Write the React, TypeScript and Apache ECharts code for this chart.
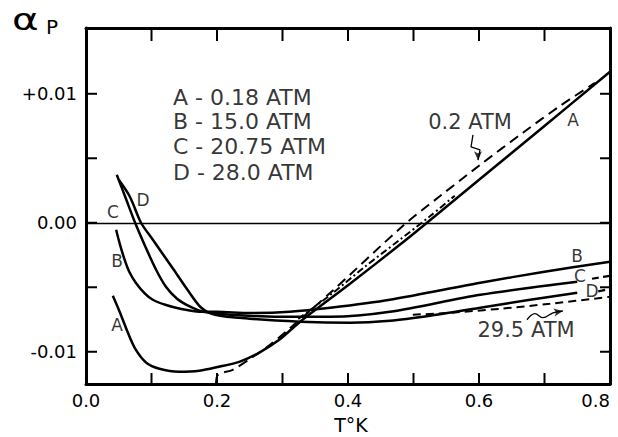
import React, { useEffect, useRef } from "react";
import * as echarts from "echarts";

// ---- data (T in K, alpha_P) ----
const T_A = [0.041, 0.052, 0.064, 0.076, 0.092, 0.112, 0.142, 0.173, 0.203, 0.234, 0.264, 0.295, 0.327, 0.403, 0.479, 0.515, 0.602, 0.693, 0.8];
const alpha_A = [-0.00566, -0.00698, -0.00853, -0.00984, -0.01085, -0.01132, -0.01155, -0.01147, -0.01116, -0.01078, -0.01008, -0.00907, -0.00767, -0.00473, -0.00171, -0.00023, 0.00341, 0.00721, 0.01171];

const T_B = [0.046, 0.052, 0.06, 0.066, 0.076, 0.09, 0.102, 0.121, 0.144, 0.173, 0.199, 0.25, 0.311, 0.373, 0.464, 0.602, 0.7, 0.8];
const alpha_B = [-0.00054, -0.00171, -0.00302, -0.0038, -0.00465, -0.0055, -0.00597, -0.00636, -0.00667, -0.0069, -0.0069, -0.007, -0.0069, -0.00659, -0.00597, -0.00465, -0.0038, -0.00302];

const T_C = [0.047, 0.061, 0.075, 0.09, 0.107, 0.122, 0.139, 0.159, 0.179, 0.22, 0.296, 0.373, 0.464, 0.602, 0.75];
const alpha_C = [0.00372, 0.00186, 0, -0.00178, -0.00364, -0.00496, -0.00589, -0.00651, -0.0069, -0.00713, -0.00729, -0.00729, -0.0069, -0.00558, -0.00457];
const T_C_ext = [0.7725, 0.8];
const alpha_C_ext = [-0.00434, -0.00411];

const T_D = [0.05, 0.067, 0.084, 0.101, 0.118, 0.134, 0.156, 0.176, 0.197, 0.25, 0.327, 0.403, 0.464, 0.525, 0.602, 0.678, 0.75];
const alpha_D = [0.00333, 0.00202, 0, -0.00124, -0.00248, -0.00364, -0.00527, -0.00659, -0.00713, -0.00744, -0.00767, -0.00775, -0.0076, -0.00721, -0.00659, -0.00597, -0.00543];
const T_D_ext = [0.782, 0.8];
const alpha_D_ext = [-0.00532, -0.00512];

// 0.2 ATM (dashed)
const T_02 = [0.1985, 0.2015, 0.224, 0.255, 0.281, 0.305, 0.373, 0.484, 0.541, 0.602, 0.667, 0.724, 0.777];
const alpha_02 = [-0.01248, -0.01178, -0.0114, -0.01039, -0.00946, -0.00845, -0.00543, -0.00023, 0.00209, 0.0045, 0.00698, 0.00907, 0.01085];

// dash-dot curve
const T_DD = [0.324, 0.373, 0.426, 0.479, 0.525, 0.563];
const alpha_DD = [-0.00745, -0.0056, -0.0034, -0.00132, 0.0005, 0.0021];

// 29.5 ATM (dashed)
const T_295 = [0.499, 0.556, 0.632, 0.708, 0.8];
const alpha_295 = [-0.00713, -0.00698, -0.00667, -0.00628, -0.00574];

// annotation arrows
const T_arrow02 = [0.5908, 0.5878, 0.6015, 0.5985];
const alpha_arrow02 = [0.00682, 0.00589, 0.00566, 0.00485];
const T_arrow295 = [0.6733, 0.6855, 0.6977, 0.713, 0.728];
const alpha_arrow295 = [-0.00752, -0.00705, -0.00736, -0.00698, -0.00684];

// labels
const legendLines = ["A - 0.18 ATM", "B - 15.0 ATM", "C - 20.75 ATM", "D - 28.0 ATM"];
const legendT = [0.1328, 0.1328, 0.1328, 0.1328];
const legendAlpha = [0.00969, 0.00783, 0.00589, 0.00388];
const curveLetters = ["A", "B", "C", "D", "A", "B", "C", "D"];
const letterT = [0.0473, 0.0473, 0.0412, 0.087, 0.7435, 0.7496, 0.7542, 0.7725];
const letterAlpha = [-0.0079, -0.003, 0.0008, 0.0018, 0.008, -0.00256, -0.0041, -0.0053];
const noteTexts = ["0.2 ATM", "29.5 ATM"];
const noteT = [0.5863, 0.6718];
const noteAlpha = [0.00783, -0.0083];

// axes
const X_MIN = 0;
const X_MAX = 0.8;
const Y_MIN = -0.0125;
const Y_MAX = 0.0151;
const xLabelValues = [0, 0.2, 0.4, 0.6, 0.8];
const xTickValues = [0.1, 0.2, 0.3, 0.4, 0.5, 0.6, 0.7];
const yLabelValues = [-0.01, 0, 0.01];
const yTickValues = [-0.01, -0.005, 0, 0.005, 0.01];

const zip = (xs: number[], ys: number[]) => xs.map((x, i) => [x, ys[i]]);
const FONT = "DejaVu Sans";

export default function App() {
  const ref = useRef<HTMLDivElement>(null);
  useEffect(() => {
    if (!ref.current) return;
    const chart = echarts.init(ref.current, null, { renderer: "svg" });
    const solid = (data: number[][]) => ({
      type: "line",
      data,
      symbol: "none",
      smooth: 0.3,
      silent: true,
      lineStyle: { color: "#000", width: 2.5 },
    });
    const dashed = (data: number[][], dash: number[], width = 2) => ({
      type: "line",
      data,
      symbol: "none",
      smooth: 0.3,
      silent: true,
      lineStyle: { color: "#000", width, type: dash },
    });
    const line = () => ({ show: true, onZero: false, lineStyle: { color: "#000", width: 3 } });
    // tick marks: [value, side] side 0=bottom 1=top 2=left 3=right
    const tickData: number[][] = [
      ...xTickValues.map((v) => [v, 0]),
      ...xTickValues.map((v) => [v, 1]),
      ...yTickValues.map((v) => [v, 2]),
      ...yTickValues.map((v) => [v, 3]),
    ];
    const option: any = {
      animation: false,
      grid: { left: 86, right: 8, top: 28, bottom: 53 },
      xAxis: [
        {
          type: "value", min: X_MIN, max: X_MAX, position: "bottom",
          axisLine: line(),
          splitLine: { show: false },
          axisTick: { show: false },
          axisLabel: {
            customValues: xLabelValues, formatter: (v: number) => v.toFixed(1),
            color: "#000", fontFamily: FONT, fontSize: 18, margin: 7, alignMaxLabel: "right",
          },
        },
        {
          type: "value", min: X_MIN, max: X_MAX, position: "top",
          axisLine: line(),
          splitLine: { show: false },
          axisTick: { show: false },
          axisLabel: { show: false },
        },
      ],
      yAxis: [
        {
          type: "value", min: Y_MIN, max: Y_MAX, position: "left",
          axisLine: line(),
          splitLine: { show: false },
          axisTick: { show: false },
          axisLabel: {
            customValues: yLabelValues,
            formatter: (v: number) => (v === 0 ? "0.00" : (v > 0 ? "+" : "") + v.toFixed(2)),
            color: "#000", fontFamily: FONT, fontSize: 18, margin: 9,
          },
        },
        {
          type: "value", min: Y_MIN, max: Y_MAX, position: "right",
          axisLine: line(),
          splitLine: { show: false },
          axisTick: { show: false },
          axisLabel: { show: false },
        },
      ],
      series: [
        {
          type: "custom", silent: true, clip: false, z: 5,
          data: tickData,
          renderItem: (_p: any, api: any) => {
            const v = api.value(0);
            const side = api.value(1);
            let x1, y1, x2, y2;
            if (side === 0) {
              const p = api.coord([v, Y_MIN]);
              x1 = x2 = p[0]; y1 = p[1]; y2 = p[1] - 11;
            } else if (side === 1) {
              const p = api.coord([v, Y_MAX]);
              x1 = x2 = p[0]; y1 = p[1]; y2 = p[1] + 13;
            } else if (side === 2) {
              const p = api.coord([X_MIN, v]);
              y1 = y2 = p[1]; x1 = p[0]; x2 = p[0] + 11;
            } else {
              const p = api.coord([X_MAX, v]);
              y1 = y2 = p[1]; x1 = p[0]; x2 = p[0] - 10;
            }
            return { type: "line", shape: { x1, y1, x2, y2 }, style: { stroke: "#000", lineWidth: 2 } };
          },
        },
        {
          ...solid(zip(T_A, alpha_A)),
          markLine: {
            silent: true, symbol: ["none", "none"], label: { show: false },
            lineStyle: { color: "#000", width: 1.3, type: "solid" },
            data: [{ yAxis: 0 }],
          },
        },
        solid(zip(T_B, alpha_B)),
        solid(zip(T_C, alpha_C)),
        solid(zip(T_D, alpha_D)),
        dashed(zip(T_C_ext, alpha_C_ext), [7, 4], 2.2),
        dashed(zip(T_D_ext, alpha_D_ext), [7, 4], 2.2),
        dashed(zip(T_02, alpha_02), [10, 6], 2),
        dashed(zip(T_DD, alpha_DD), [7, 3, 2, 3], 2),
        dashed(zip(T_295, alpha_295), [8, 5], 2),
        {
          type: "line", data: zip(T_arrow02, alpha_arrow02), symbol: "none", silent: true,
          lineStyle: { color: "#000", width: 1.3 },
        },
        {
          type: "line", data: zip(T_arrow295, alpha_arrow295), symbol: "none", smooth: 0.4, silent: true,
          lineStyle: { color: "#000", width: 1.3 },
        },
        {
          type: "scatter", silent: true,
          data: [
            { value: [T_arrow02[3], alpha_arrow02[3]], symbolRotate: 180 },
            { value: [T_arrow295[4], alpha_arrow295[4]], symbolRotate: -80 },
          ],
          symbol: "arrow", symbolSize: [6, 9],
          itemStyle: { color: "#000" },
        },
        {
          type: "scatter", silent: true, symbolSize: 0,
          data: legendLines.map((t, i) => ({ name: t, value: [legendT[i], legendAlpha[i]] })),
          label: { show: true, position: "right", distance: 0, formatter: (p: any) => p.name, color: "#000", fontFamily: FONT, fontSize: 22, lineHeight: 20 },
        },
        {
          type: "scatter", silent: true, symbolSize: 0,
          data: curveLetters.map((t, i) => ({ name: t, value: [letterT[i], letterAlpha[i]] })),
          label: { show: true, position: "inside", formatter: (p: any) => p.name, color: "#000", fontFamily: FONT, fontSize: 17, lineHeight: 13 },
        },
        {
          type: "scatter", silent: true, symbolSize: 0,
          data: noteTexts.map((t, i) => ({ name: t, value: [noteT[i], noteAlpha[i]] })),
          label: { show: true, position: "inside", formatter: (p: any) => p.name, color: "#000", fontFamily: FONT, fontSize: 21, lineHeight: 18 },
        },
      ],
      graphic: [
        { type: "text", left: 12, top: 4, scaleX: 1.35, style: { text: "α", fill: "#000", font: `30px ${FONT}` } },
        { type: "text", left: 46, top: 17, style: { text: "P", fill: "#000", font: `20px ${FONT}` } },
        { type: "text", x: 351, y: 425, style: { text: "T°K", fill: "#000", font: `19px ${FONT}`, textAlign: "center", textVerticalAlign: "middle" } },
      ],
    };
    chart.setOption(option);
    return () => chart.dispose();
  }, []);
  return <div ref={ref} style={{ position: "fixed", left: 0, top: 0, width: 618, height: 437, background: "#fff" }} />;
}
